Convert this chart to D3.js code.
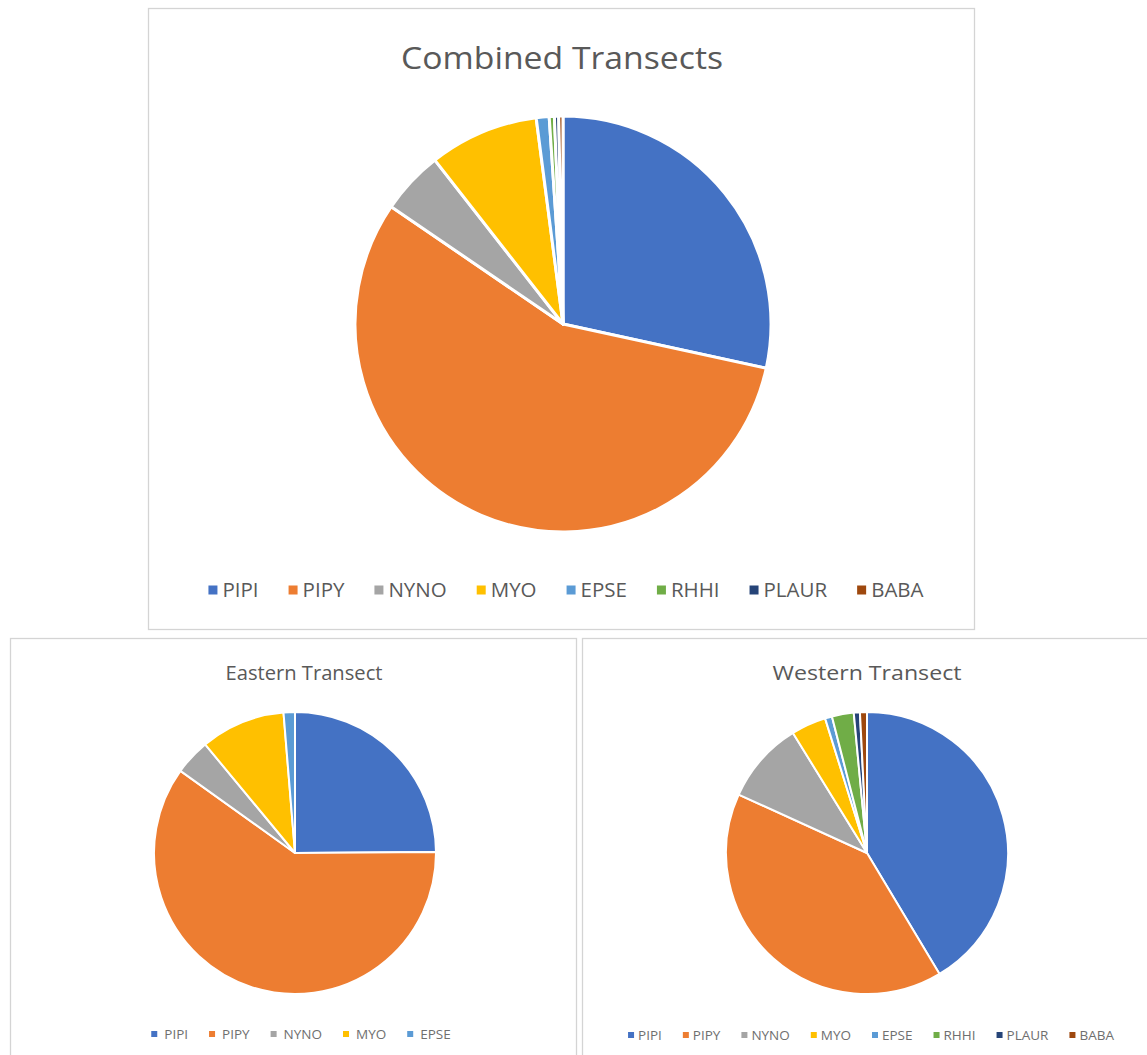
<!DOCTYPE html>
<html>
<head>
<meta charset="utf-8">
<script src="https://cdn.jsdelivr.net/npm/d3@7"></script>
<style>
  html, body { margin: 0; padding: 0; background: #ffffff; }
  svg { display: block; }
</style>
</head>
<body>
<svg id="chart" width="1147" height="1055"></svg>
<script>
// ---- Data (percent shares) ----
const species = ["PIPI", "PIPY", "NYNO", "MYO", "EPSE", "RHHI", "PLAUR", "BABA"];
const colors = ["#4472C4", "#ED7D31", "#A5A5A5", "#FFC000", "#5B9BD5", "#70AD47", "#264478", "#9E480E"];

const combinedValues = [28.4, 56.1, 4.9, 8.5, 1.0, 0.4, 0.33, 0.33];
const easternSpecies = ["PIPI", "PIPY", "NYNO", "MYO", "EPSE"];
const easternValues = [24.9, 60.0, 4.1, 9.7, 1.3];
const westernValues = [41.4, 40.4, 9.4, 4.0, 0.8, 2.5, 0.7, 0.8];

const titles = ["Combined Transects", "Eastern Transect", "Western Transect"];

// ---- Drawing ----
const svg = d3.select("#chart");
svg.append("rect").attr("width", 1147).attr("height", 1055).attr("fill", "#fff");

const color = d3.scaleOrdinal().domain(species).range(colors);
const FONT = "'Open Sans', 'Noto Sans', sans-serif";

function panel(cfg) {
  const g = svg.append("g");
  // frame
  g.append("rect")
    .attr("x", cfg.frame[0] + 0.5).attr("y", cfg.frame[1] + 0.5)
    .attr("width", cfg.frame[2]).attr("height", cfg.frame[3])
    .attr("fill", "#fff").attr("stroke", "#d4d4d4").attr("stroke-width", 1.3);

  // title
  g.append("text")
    .attr("x", cfg.titleX).attr("y", cfg.titleY)
    .attr("text-anchor", "middle")
    .attr("font-family", FONT)
    .attr("font-size", cfg.titleSize)
    .attr("fill", "#595959")
    .attr("textLength", cfg.titleLen)
    .attr("lengthAdjust", "spacingAndGlyphs")
    .text(cfg.title);

  // pie
  const data = cfg.labels.map((k, i) => ({ key: k, value: cfg.values[i] }));
  const pie = d3.pie().sort(null).value(d => d.value).startAngle(0).endAngle(2 * Math.PI);
  const arc = d3.arc().innerRadius(0).outerRadius(cfg.r);
  g.append("g")
    .attr("transform", `translate(${cfg.cx},${cfg.cy})`)
    .selectAll("path")
    .data(pie(data))
    .join("path")
    .attr("d", arc)
    .attr("fill", d => color(d.data.key))
    .attr("stroke", "#fff")
    .attr("stroke-width", cfg.strokeW)
    .attr("stroke-linejoin", "round");

  // legend
  const lg = g.append("g");
  const items = lg.selectAll("g.item").data(cfg.labels).join("g").attr("class", "item");
  items.append("rect")
    .attr("width", cfg.sq).attr("height", cfg.sq)
    .attr("y", -cfg.sq / 2)
    .attr("fill", d => color(d));
  items.append("text")
    .attr("x", cfg.sq + cfg.gap1)
    .attr("dy", "0.35em")
    .attr("font-family", FONT)
    .attr("font-size", cfg.legSize)
    .attr("fill", cfg.legColor)
    .text(d => d);
  let x = 0;
  items.each(function () {
    const t = d3.select(this).select("text").node();
    const w = cfg.sq + cfg.gap1 + t.getComputedTextLength();
    d3.select(this).attr("transform", `translate(${x},0)`);
    x += w + cfg.gap2;
  });
  const total = x - cfg.gap2;
  lg.attr("transform", `translate(${cfg.legCx - total / 2},${cfg.legY})`);
}

panel({
  frame: [148, 8, 826, 621],
  title: titles[0], titleSize: 31, titleX: 562, titleY: 69, titleLen: 322,
  cx: 563, cy: 324, r: 208, strokeW: 3,
  labels: species, values: combinedValues,
  legY: 590, legCx: 566, legSize: 20.5, sq: 9, gap1: 5, gap2: 30, legColor: "#595959"
});

panel({
  frame: [10, 638, 566, 430],
  title: titles[1], titleSize: 20, titleX: 304, titleY: 680, titleLen: 157,
  cx: 295, cy: 853, r: 141, strokeW: 2,
  labels: easternSpecies, values: easternValues,
  legY: 1034, legCx: 301, legSize: 13.5, sq: 6, gap1: 7, gap2: 21, legColor: "#6f6f6f"
});

panel({
  frame: [582, 638, 580, 430],
  title: titles[2], titleSize: 20, titleX: 867, titleY: 680, titleLen: 189,
  cx: 867, cy: 853, r: 141, strokeW: 2,
  labels: species, values: westernValues,
  legY: 1035, legCx: 871, legSize: 13.5, sq: 6, gap1: 4, gap2: 21, legColor: "#6f6f6f"
});
</script>
</body>
</html>
